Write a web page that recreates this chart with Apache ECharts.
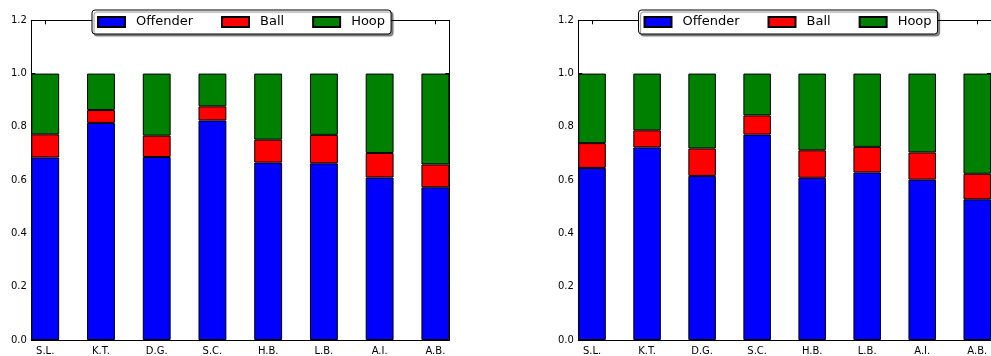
<!DOCTYPE html>
<html>
<head>
<meta charset="utf-8">
<script src="https://cdn.jsdelivr.net/npm/echarts@6/dist/echarts.min.js"></script>
<style>
html,body{margin:0;padding:0;background:#fff;}
#chart{width:991px;height:356px;}
</style>
</head>
<body>
<div id="chart"></div>
<script>
var categories = ['S.L.', 'K.T.', 'D.G.', 'S.C.', 'H.B.', 'L.B.', 'A.I.', 'A.B.'];
var seriesNames = ['Offender', 'Ball', 'Hoop'];
var yTicks = [0.0, 0.2, 0.4, 0.6, 0.8, 1.0, 1.2];

var leftOffender = [0.685, 0.815, 0.687, 0.824, 0.666, 0.663, 0.610, 0.573];
var leftBall     = [0.087, 0.048, 0.080, 0.053, 0.086, 0.107, 0.092, 0.086];
var leftHoop     = [0.228, 0.137, 0.233, 0.123, 0.248, 0.230, 0.298, 0.341];

var rightOffender = [0.646, 0.723, 0.616, 0.771, 0.609, 0.629, 0.602, 0.528];
var rightBall     = [0.093, 0.064, 0.103, 0.072, 0.103, 0.096, 0.102, 0.096];
var rightHoop     = [0.261, 0.213, 0.281, 0.157, 0.288, 0.275, 0.296, 0.376];

var colors = {Offender: '#0000ff', Ball: '#ff0000', Hoop: '#008000'};

// matplotlib layout: bar of width 0.5 at each integer, gap 0.5 between -> slots of half width
var slots = [];
categories.forEach(function (c, i) {
  slots.push(c);
  if (i < categories.length - 1) slots.push('');
});
function toSlots(arr) {
  var out = [];
  arr.forEach(function (v, i) {
    out.push(v);
    if (i < arr.length - 1) out.push('-');
  });
  return out;
}

var gridW = 418, gridH = 323, gridTop = 20.3;
var axisLineStyle = {color: '#000', width: 1};
var tickStyle = {color: '#000', width: 1};
var fontFamily = 'DejaVu Sans';
function isBarSlot(idx) { return idx % 2 === 0; }

function xAxisFor(gi, pos) {
  return {
    type: 'category', gridIndex: gi, data: slots, position: pos, boundaryGap: true,
    axisLine: {show: true, onZero: false, lineStyle: axisLineStyle},
    axisTick: {show: true, inside: true, length: 4, alignWithLabel: true, interval: isBarSlot, lineStyle: tickStyle},
    axisLabel: {show: pos === 'bottom', interval: 0, margin: 6, fontSize: 10, color: '#000', fontFamily: fontFamily},
    splitLine: {show: false}
  };
}
function yAxisFor(gi, pos) {
  return {
    type: 'value', gridIndex: gi, min: 0, max: 1.2, interval: 0.2, position: pos,
    axisLine: {show: true, onZero: false, lineStyle: axisLineStyle},
    axisTick: {show: true, inside: true, length: 4, lineStyle: tickStyle},
    axisLabel: {show: pos === 'left', margin: 4.5, fontSize: 10, color: '#000', fontFamily: fontFamily,
      formatter: function (v) { return v.toFixed(1); }},
    splitLine: {show: false}
  };
}

function legendFor(leftPx) {
  return {
    data: seriesNames.map(function (n) { return {name: n, icon: 'rect'}; }),
    left: leftPx, top: 10,
    orient: 'horizontal',
    itemWidth: 27, itemHeight: 10, itemGap: 28,
    padding: [5, 6, 5, 5],
    backgroundColor: '#fff', borderColor: '#000', borderWidth: 1, borderRadius: 3,
    shadowColor: 'rgba(0,0,0,0.45)', shadowBlur: 1, shadowOffsetX: 2, shadowOffsetY: 2,
    textStyle: {fontSize: 13, lineHeight: 14, color: '#000', fontFamily: fontFamily, padding: [0, 0, 0, 6]},
    selectedMode: false, z: 10
  };
}

function makeSeries(gi, dataSets) {
  return seriesNames.map(function (name, k) {
    return {
      name: name, type: 'bar', stack: 'g' + gi,
      xAxisIndex: gi * 2, yAxisIndex: gi * 2,
      barWidth: '100%', barGap: '-100%',
      itemStyle: {color: colors[name], borderColor: '#000', borderWidth: 1},
      data: toSlots(dataSets[k])
    };
  });
}

var chart = echarts.init(document.getElementById('chart'), null, {renderer: 'canvas'});
chart.setOption({
  animation: false,
  backgroundColor: '#fff',
  grid: [
    {left: 31.3, top: gridTop, width: gridW, height: gridH, containLabel: false},
    {left: 578.3, top: gridTop, width: gridW, height: gridH, containLabel: false}
  ],
  legend: [legendFor(92), legendFor(638.5)],
  xAxis: [xAxisFor(0, 'bottom'), xAxisFor(0, 'top'), xAxisFor(1, 'bottom'), xAxisFor(1, 'top')],
  yAxis: [yAxisFor(0, 'left'), yAxisFor(0, 'right'), yAxisFor(1, 'left'), yAxisFor(1, 'right')],
  series: makeSeries(0, [leftOffender, leftBall, leftHoop])
    .concat(makeSeries(1, [rightOffender, rightBall, rightHoop]))
});
</script>
</body>
</html>
